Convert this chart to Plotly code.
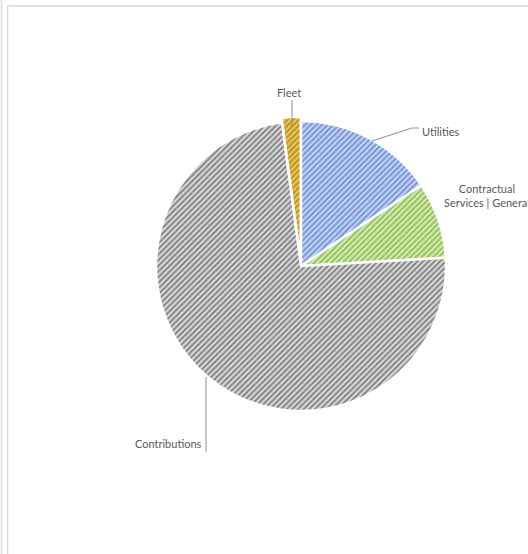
import plotly.graph_objects as go

labels = ["Utilities", "Contractual Services | General", "Contributions", "Fleet"]
values = [15.6, 8.5, 73.8, 2.1]
pulls = [0, 0, 0, 0.03]
fg_colors = ["#6f8fd8", "#8cbf4c", "#7c7c7c", "#b48d1c"]
bg_colors = ["#c3d3f3", "#d6eab6", "#d9d9d9", "#ecc650"]

W, H = 528, 554
cx, cy, r = 301, 266, 145
R = r * (1 + max(pulls))

fig = go.Figure(go.Pie(
    labels=labels, values=values, sort=False, direction="clockwise", rotation=0,
    pull=pulls, textinfo="none", hoverinfo="label+percent",
    domain=dict(x=[(cx - R) / W, (cx + R) / W], y=[(H - cy - R) / H, (H - cy + R) / H]),
    marker=dict(
        colors=bg_colors,
        line=dict(color="white", width=2.5),
        pattern=dict(shape="/", fgcolor=fg_colors, bgcolor=bg_colors, size=4, solidity=0.45),
    ),
    showlegend=False,
))

def px(x): return x / W
def py(y): return 1 - y / H

font = dict(family="Lato, Open Sans, sans-serif", size=11, color="#595959")
ann = [
    dict(text="Fleet", x=px(289), y=py(92), xanchor="center", yanchor="middle"),
    dict(text="Utilities", x=px(420), y=py(131), xanchor="left", yanchor="middle"),
    dict(text="Contractual<br>Services | General", x=px(487), y=py(195), xanchor="center", yanchor="middle", align="center"),
    dict(text="Contributions", x=px(204), y=py(443), xanchor="right", yanchor="middle"),
]
for a in ann:
    a.update(xref="paper", yref="paper", showarrow=False, font=font)

lc = dict(color="#8c8c8c", width=1)
shapes = [
    dict(type="line", x0=px(292), y0=py(100), x1=px(292), y1=py(126), line=lc),
    dict(type="line", x0=px(419), y0=py(128), x1=px(412), y1=py(128), line=lc),
    dict(type="line", x0=px(412), y0=py(128), x1=px(372), y1=py(141), line=lc),
    dict(type="line", x0=px(206), y0=py(377), x1=px(206), y1=py(452), line=lc),
    # frame borders
    dict(type="line", x0=px(1.5), y0=0, x1=px(1.5), y1=1, line=dict(color="#d9d9d9", width=1.5)),
    dict(type="line", x0=px(7.5), y0=0, x1=px(7.5), y1=py(6), line=dict(color="#d9d9d9", width=1.5)),
    dict(type="line", x0=px(7.5), y0=py(6), x1=1, y1=py(6), line=dict(color="#d9d9d9", width=1.5)),
]
for s in shapes:
    s.update(xref="paper", yref="paper", layer="above")

fig.update_layout(
    width=W, height=H, margin=dict(l=0, r=0, t=0, b=0),
    paper_bgcolor="white", plot_bgcolor="white",
    annotations=ann, shapes=shapes,
)
fig.write_html("out.html", config={"displayModeBar": False},
               post_script="document.body.style.margin='0';document.documentElement.style.overflow='hidden';document.body.style.overflow='hidden';")
